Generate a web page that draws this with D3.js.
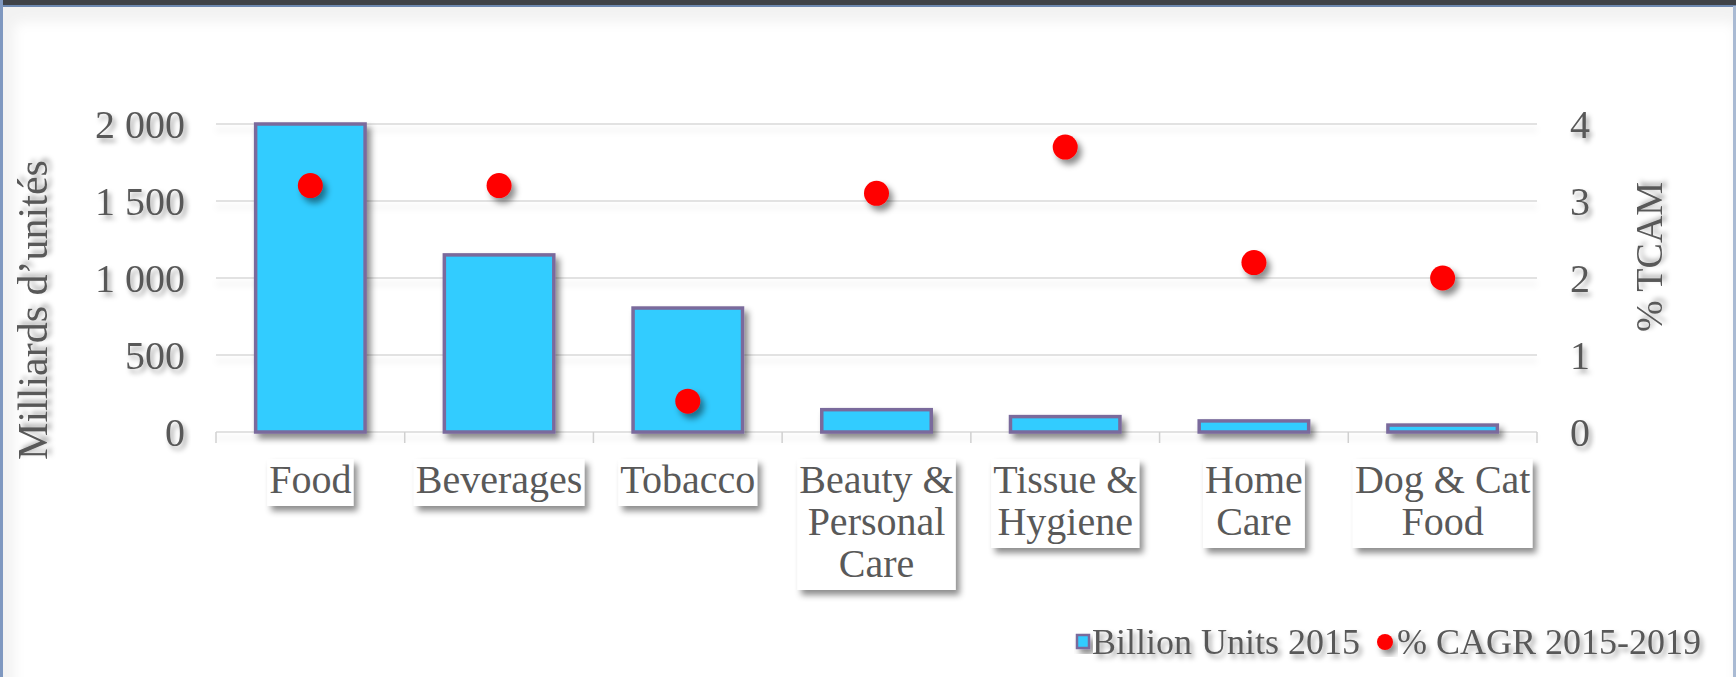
<!DOCTYPE html>
<html>
<head>
  <meta charset="utf-8">
  <script src="https://d3js.org/d3.v7.min.js"></script>
  <style>
    body { margin: 0; background: #fff; }
    svg text { font-family: "Liberation Serif", "DejaVu Serif", serif; fill: #595959; }
  </style>
</head>
<body>
  <div id="chart"></div>
  <script>
    // chart data
    var categories = ['Food', 'Beverages', 'Tobacco', 'Beauty & Personal Care', 'Tissue & Hygiene', 'Home Care', 'Dog & Cat Food'];
    var categoryLines = [['Food'], ['Beverages'], ['Tobacco'], ['Beauty &', 'Personal', 'Care'], ['Tissue &', 'Hygiene'], ['Home', 'Care'], ['Dog & Cat', 'Food']];
    var billionUnits = [2000, 1150, 805, 145, 100, 72, 45];
    var cagr = [3.2, 3.2, 0.4, 3.1, 3.7, 2.2, 2.0];
    var leftTicks = [0, 500, 1000, 1500, 2000];
    var rightTicks = [0, 1, 2, 3, 4];
    var seriesNames = ['Billion Units 2015', '% CAGR 2015-2019'];

    var W = 1736, H = 677;
    var margin = { top: 124, right: 199, bottom: 245, left: 216 };
    var width = W - margin.left - margin.right;
    var height = H - margin.top - margin.bottom;

    var svg = d3.select('#chart').append('svg')
      .attr('width', W)
      .attr('height', H);

    var defs = svg.append('defs');
    function shadow(id, dx, dy, sd, op) {
      var f = defs.append('filter').attr('id', id)
        .attr('x', '-20%').attr('y', '-20%').attr('width', '150%').attr('height', '160%');
      f.append('feDropShadow')
        .attr('dx', dx).attr('dy', dy).attr('stdDeviation', sd)
        .attr('flood-color', '#000').attr('flood-opacity', op);
    }
    shadow('sh', 4, 5, 3, 0.45);
    shadow('shText', 3, 4, 2.5, 0.35);
    shadow('shLine', 0, 6, 3, 0.12);
    var panelBlur = defs.append('filter').attr('id', 'panel')
      .attr('x', '-5%').attr('y', '-5%').attr('width', '110%').attr('height', '110%');
    panelBlur.append('feGaussianBlur').attr('stdDeviation', 6);

    // frame
    svg.append('rect').attr('x', 0).attr('y', 0).attr('width', W).attr('height', H).attr('fill', '#f2f2f2');
    svg.append('rect').attr('x', 14).attr('y', 22).attr('width', W - 14).attr('height', H)
      .attr('rx', 8).attr('fill', '#fff').attr('filter', 'url(#panel)');
    svg.append('rect').attr('x', 0).attr('y', 0).attr('width', W).attr('height', 6).attr('fill', '#3f4247');
    svg.append('rect').attr('x', 0).attr('y', 5).attr('width', W).attr('height', 2).attr('fill', '#6d88b0');
    svg.append('rect').attr('x', 0).attr('y', 0).attr('width', 3).attr('height', H).attr('fill', '#7f98c0');
    svg.append('rect').attr('x', W - 3).attr('y', 6).attr('width', 3).attr('height', H).attr('fill', '#a9bad3');

    var g = svg.append('g')
      .attr('transform', 'translate(' + margin.left + ',' + margin.top + ')');

    var x = d3.scaleBand()
      .domain(categories)
      .range([0, width])
      .paddingInner(0.42)
      .paddingOuter(0.21);

    var yL = d3.scaleLinear().domain([0, 2000]).range([height, 0]);
    var yR = d3.scaleLinear().domain([0, 4]).range([height, 0]);

    var fmt = d3.formatLocale({ decimal: ',', thousands: ' ', grouping: [3], currency: ['', ''] }).format(',d');

    // gridlines
    g.append('g').attr('filter', 'url(#shLine)')
      .selectAll('line')
      .data(leftTicks)
      .enter()
      .append('line')
      .attr('x1', 0).attr('x2', width)
      .attr('y1', function(d) { return yL(d); })
      .attr('y2', function(d) { return yL(d); })
      .attr('stroke', '#d9d9d9')
      .attr('stroke-width', 1.5);

    // category ticks between bands
    var step = x.step();
    var boundaries = d3.range(categories.length + 1).map(function(i) { return i * step; });
    g.append('g').selectAll('line')
      .data(boundaries)
      .enter()
      .append('line')
      .attr('x1', function(d) { return d; })
      .attr('x2', function(d) { return d; })
      .attr('y1', height)
      .attr('y2', height + 11)
      .attr('stroke', '#d0d0d0')
      .attr('stroke-width', 1.5);

    // left axis
    var axisL = g.append('g')
      .call(d3.axisLeft(yL).tickValues(leftTicks).tickFormat(fmt).tickSize(0).tickPadding(31));
    axisL.select('.domain').remove();
    axisL.selectAll('text')
      .attr('font-size', '40px')
      .attr('fill', '#595959')
      .attr('font-family', '"Liberation Serif", serif')
      .attr('dy', '0.33em')
      .attr('filter', 'url(#shText)');

    // right axis
    var axisR = g.append('g')
      .attr('transform', 'translate(' + width + ',0)')
      .call(d3.axisRight(yR).tickValues(rightTicks).tickFormat(d3.format('d')).tickSize(0).tickPadding(33));
    axisR.select('.domain').remove();
    axisR.selectAll('text')
      .attr('font-size', '40px')
      .attr('fill', '#595959')
      .attr('font-family', '"Liberation Serif", serif')
      .attr('dy', '0.33em')
      .attr('filter', 'url(#shText)');

    // bars
    g.append('g').attr('filter', 'url(#sh)')
      .selectAll('rect')
      .data(billionUnits)
      .enter()
      .append('rect')
      .attr('x', function(d, i) { return x(categories[i]); })
      .attr('y', function(d) { return yL(d); })
      .attr('width', x.bandwidth())
      .attr('height', function(d) { return height - yL(d); })
      .attr('fill', '#33ccff')
      .attr('stroke', '#7a6a9c')
      .attr('stroke-width', 3.5);

    // CAGR dots
    g.append('g').attr('filter', 'url(#sh)')
      .selectAll('circle')
      .data(cagr)
      .enter()
      .append('circle')
      .attr('cx', function(d, i) { return x(categories[i]) + x.bandwidth() / 2; })
      .attr('cy', function(d) { return yR(d); })
      .attr('r', 12.5)
      .attr('fill', '#ff0000');

    // category labels, in white boxes with shadow
    var lineH = 42;
    var labels = g.append('g').selectAll('g')
      .data(categories)
      .enter()
      .append('g')
      .attr('transform', function(d) { return 'translate(' + (x(d) + x.bandwidth() / 2) + ',' + (height + 61) + ')'; });

    labels.each(function(d, i) {
      var lg = d3.select(this);
      var box = lg.append('rect').attr('fill', '#fff').attr('filter', 'url(#sh)');
      var t = lg.append('text')
        .attr('text-anchor', 'middle')
        .attr('font-size', '40px');
      categoryLines[i].forEach(function(line, j) {
        t.append('tspan').attr('x', 0).attr('y', j * lineH).text(line);
      });
      var bb = t.node().getBBox();
      box.attr('x', bb.x - 2).attr('y', bb.y + 2)
        .attr('width', bb.width + 4).attr('height', bb.height + 2);
    });

    // axis titles
    svg.append('text')
      .attr('transform', 'translate(47,' + (margin.top + height / 2 + 32) + ') rotate(-90)')
      .attr('text-anchor', 'middle')
      .attr('font-size', '42px')
      .attr('filter', 'url(#shText)')
      .text('Milliards d\u2019unités');

    svg.append('text')
      .attr('transform', 'translate(1662,257) rotate(-90)')
      .attr('text-anchor', 'middle')
      .attr('font-size', '38px')
      .attr('filter', 'url(#shText)')
      .text('% TCAM');

    // legend
    var legend = svg.append('g').attr('transform', 'translate(0,654)');
    legend.append('rect')
      .attr('x', 1077).attr('y', -19).attr('width', 12).attr('height', 13)
      .attr('fill', '#33ccff').attr('stroke', '#7a6a9c').attr('stroke-width', 2.5)
      .attr('filter', 'url(#sh)');
    legend.append('text')
      .attr('x', 1092).attr('y', 0)
      .attr('font-size', '36px')
      .attr('filter', 'url(#shText)')
      .text(seriesNames[0]);
    legend.append('circle')
      .attr('cx', 1385).attr('cy', -12).attr('r', 8)
      .attr('fill', '#ff0000')
      .attr('filter', 'url(#sh)');
    legend.append('text')
      .attr('x', 1397).attr('y', 0)
      .attr('font-size', '36px')
      .attr('filter', 'url(#shText)')
      .text(seriesNames[1]);
  </script>
</body>
</html>
